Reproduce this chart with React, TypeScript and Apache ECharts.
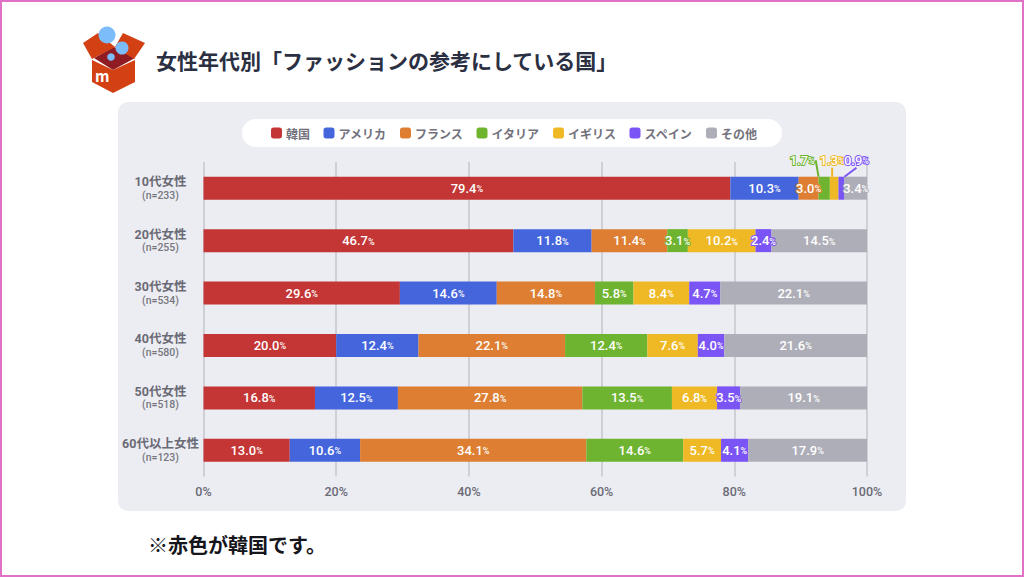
import React, { useEffect, useRef } from "react";
import * as echarts from "echarts";

const ages = ["10代女性", "20代女性", "30代女性", "40代女性", "50代女性", "60代以上女性"];
const sampleSizes = ["(n=233)", "(n=255)", "(n=534)", "(n=580)", "(n=518)", "(n=123)"];
const xTicks = { min: 0, max: 100, interval: 20 };

const korea = [79.4, 46.7, 29.6, 20.0, 16.8, 13.0];
const america = [10.3, 11.8, 14.6, 12.4, 12.5, 10.6];
const france = [3.0, 11.4, 14.8, 22.1, 27.8, 34.1];
const italy = [1.7, 3.1, 5.8, 12.4, 13.5, 14.6];
const uk = [1.3, 10.2, 8.4, 7.6, 6.8, 5.7];
const spain = [0.9, 2.4, 4.7, 4.0, 3.5, 4.1];
const other = [3.4, 14.5, 22.1, 21.6, 19.1, 17.9];

const seriesDefs: [string, number[], string][] = [
  ["韓国", korea, "#c43535"],
  ["アメリカ", america, "#4565dc"],
  ["フランス", france, "#dd7e32"],
  ["イタリア", italy, "#6fb430"],
  ["イギリス", uk, "#eeb925"],
  ["スペイン", spain, "#7b54f5"],
  ["その他", other, "#aeaeb8"],
];

const FONT = '"Noto Sans CJK JP", "Noto Sans", sans-serif';
const NUM = 'Roboto, "Liberation Sans", sans-serif';
const LABEL = 'Roboto, "Noto Sans CJK JP", sans-serif';
const outerOffsets: Record<string, { dx: number; dy: number }> = {
  イタリア: { dx: -22, dy: -28 },
  イギリス: { dx: -2, dy: -28 },
  スペイン: { dx: 15, dy: -28 },
};

export default function App() {
  const ref = useRef<HTMLDivElement>(null);
  useEffect(() => {
    const chart = echarts.init(ref.current!, undefined, { renderer: "svg" });
    const series = seriesDefs.map(([name, values, color]) => {
      const outer = outerOffsets[name];
      return {
        type: "bar" as const,
        name,
        stack: "total",
        barWidth: 23,
        itemStyle: { color },
        label: {
          show: true,
          position: "inside" as const,
          formatter: (p: any) => `{v|${Number(p.value).toFixed(1)}}{p|%}`,
          rich: {
            v: { fontFamily: NUM, fontSize: 13, fontWeight: 500, color: "#fff", textBorderColor: color, textBorderWidth: 2 },
            p: { fontFamily: NUM, fontSize: 9, fontWeight: 500, color: "#fff", textBorderColor: color, textBorderWidth: 2, padding: [2, 0, 0, 0] },
          },
        },
        labelLine: outer
          ? { show: true, showAbove: true, length2: 0, smooth: false, lineStyle: { color, width: 2 } }
          : undefined,
        labelLayout: outer
          ? (p: any) => (p.dataIndex === 0 ? { dx: outer.dx, dy: outer.dy } : {})
          : undefined,
        data: values.map((v) => ({ value: v })),
      };
    });

    chart.setOption({
      animation: false,
      backgroundColor: "#ffffff",
      grid: { left: 203.5, right: 157, top: 162, bottom: 100.5, containLabel: false },
      legend: {
        left: 242,
        top: 119,
        padding: [8, 25, 8, 29],
        backgroundColor: "#ffffff",
        borderRadius: 14.5,
        itemWidth: 11,
        itemHeight: 11,
        itemGap: 13.5,
        icon: "roundRect",
        selectedMode: false,
        textStyle: { fontFamily: FONT, fontSize: 12, fontWeight: 700, color: "#72727c", padding: [0, 0, 0, -1] },
        data: seriesDefs.map((s) => s[0]),
      },
      xAxis: {
        type: "value",
        min: xTicks.min,
        max: xTicks.max,
        interval: xTicks.interval,
        axisLine: { show: false },
        axisTick: { show: false },
        splitLine: { show: true, lineStyle: { color: "#cfcfd6", width: 2 } },
        axisLabel: { formatter: "{value}%", fontFamily: NUM, fontSize: 12.5, fontWeight: 500, color: "#6a6a75", margin: 8 },
      },
      yAxis: {
        type: "category",
        inverse: true,
        data: ages.map((a, i) => `${a}\n${sampleSizes[i]}`),
        axisLine: { show: false },
        axisTick: { show: false },
        axisLabel: {
          margin: 43,
          align: "center",
          formatter: (v: string) => {
            const [a, n] = v.split("\n");
            return `{a|${a}}\n{n|${n}}`;
          },
          rich: {
            a: { fontFamily: LABEL, fontSize: 12.5, fontWeight: 700, color: "#6a6a75", lineHeight: 14, align: "center" },
            n: { fontFamily: NUM, fontSize: 10.5, fontWeight: 500, color: "#77777f", lineHeight: 13, align: "center" },
          },
        },
      },
      series,
      graphic: {
        elements: [
          { type: "rect", silent: true, z: -10, shape: { x: 1, y: 1, width: 1022, height: 575 }, style: { fill: "#fff", stroke: "#df72c6", lineWidth: 2 } },
          { type: "rect", silent: true, z: -9, shape: { x: 118, y: 102, width: 788, height: 409, r: 10 }, style: { fill: "#ecedf2" } },
          { type: "polygon", z: 1, shape: { points: [[94, 58], [114, 47], [135, 58], [113, 70]] }, style: { fill: "#8e1c22" } },
          { type: "polygon", z: 1, shape: { points: [[83, 43], [98, 33], [115, 47], [92, 59]] }, style: { fill: "#d24014" } },
          { type: "polygon", z: 1, shape: { points: [[123, 33], [145, 43], [134, 59], [115, 47]] }, style: { fill: "#d24014" } },
          { type: "polygon", z: 1, shape: { points: [[92, 60], [113, 70], [135, 60], [135, 82], [113, 93], [92, 82]] }, style: { fill: "#d24014" } },
          { type: "circle", z: 2, shape: { cx: 107, cy: 35, r: 8.5 }, style: { fill: "#7dbcfb" } },
          { type: "circle", z: 2, shape: { cx: 122, cy: 48, r: 6.5 }, style: { fill: "#7dbcfb" } },
          { type: "circle", z: 2, shape: { cx: 111, cy: 57, r: 3.8 }, style: { fill: "#7dbcfb" } },
          { type: "text", z: 3, x: 95, y: 75, style: { text: "m", fontFamily: FONT, fontSize: 15, fontWeight: 700, fill: "#fff", textVerticalAlign: "middle" } },
          { type: "text", z: 3, x: 156, y: 60, style: { text: "女性年代別「ファッションの参考にしている国」", fontFamily: FONT, fontSize: 21, fontWeight: 700, fill: "#2b2f42", textVerticalAlign: "middle" } },
          { type: "text", z: 3, x: 148, y: 544, style: { text: "※赤色が韓国です。", fontFamily: FONT, fontSize: 20, fontWeight: 700, fill: "#15151c", textVerticalAlign: "middle" } },
        ],
      },
    });
    return () => chart.dispose();
  }, []);
  return <div ref={ref} style={{ position: "absolute", left: 0, top: 0, width: 1024, height: 577 }} />;
}
